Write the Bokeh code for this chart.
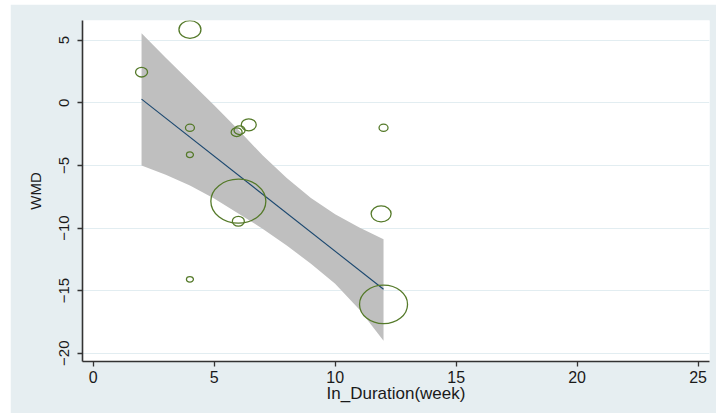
import numpy as np
from bokeh.plotting import figure
from bokeh.models import ColumnDataSource, FixedTicker, Range1d
from bokeh.embed import file_html
from bokeh.resources import INLINE

# Study-level effects: duration (weeks) vs weighted mean difference
duration = [4, 2, 4, 4, 5.93, 6.05, 6.43, 6, 6, 4, 12, 11.9, 12]
wmd = [5.85, 2.44, -2.0, -4.15, -2.35, -2.19, -1.76, -7.86, -9.46, -14.1, -2.0, -8.87, -16.1]
weight = [4.84, 1.44, 0.81, 0.49, 1.21, 1.21, 2.25, 30.25, 1.44, 0.49, 0.81, 4.0, 23.04]

# Meta-regression fitted line and 95% confidence band
fit_x = [2, 12]
fit_y = [0.29, -14.89]
band_x = [2, 3, 4, 5, 6, 7, 8, 9, 10, 11, 12]
band_hi = [5.55, 3.6, 1.7, -0.2, -2.15, -4.2, -6.0, -7.6, -8.9, -9.95, -10.9]
band_lo = [-5.0, -5.75, -6.6, -7.65, -8.85, -10.05, -11.4, -12.85, -14.45, -16.5, -19.0]

x_ticks = [0, 5, 10, 15, 20, 25]
y_ticks = [-20, -15, -10, -5, 0, 5]

BG = "#e6eef1"
FONT = "Liberation Sans"

p = figure(width=706, height=409, output_backend="svg", toolbar_location=None,
           x_range=Range1d(-0.44, 25.47), y_range=Range1d(-20.66, 6.57),
           min_border_left=72, min_border_right=7, min_border_top=16, min_border_bottom=52)
p.margin = (4, 0, 2, 10)
p.background_fill_color = "white"
p.border_fill_color = BG
p.outline_line_color = None

# confidence band
p.varea(x=band_x, y1=band_lo, y2=band_hi, fill_color="#bfbfbf", fill_alpha=1.0)
# fitted line
p.line(fit_x, fit_y, line_color="#1a476f", line_width=1.1)

# bubbles sized by study weight (slightly wider than tall)
diam = 10 * np.sqrt(np.array(weight))
src = ColumnDataSource(dict(x=duration, y=wmd, w=diam, h=diam / 1.25))
p.ellipse(x="x", y="y", width="w", height="h", width_units="screen", height_units="screen",
          source=src, fill_color=None, line_color="#557a2a", line_width=1.3)

# axes
p.xaxis.ticker = FixedTicker(ticks=x_ticks)
p.yaxis.ticker = FixedTicker(ticks=y_ticks)
for ax in (p.xaxis, p.yaxis):
    ax.axis_line_color = "#333333"
    ax.axis_line_width = 1.6
    ax.major_tick_line_color = "#333333"
    ax.major_tick_line_width = 1.3
    ax.major_tick_out = 5
    ax.major_tick_in = 0
    ax.minor_tick_line_color = None
    ax.major_label_text_font = FONT
    ax.major_label_text_color = "#1a1a1a"
    ax.axis_label_text_font = FONT
    ax.axis_label_text_font_style = "normal"
    ax.axis_label_text_color = "#1a1a1a"

p.xaxis.major_label_text_font_size = "16px"
p.xaxis.major_label_standoff = 4
p.xaxis.axis_label = "In_Duration(week)"
p.xaxis.axis_label_text_font_size = "17px"
p.xaxis.axis_label_standoff = -2

p.yaxis.major_label_orientation = "vertical"
p.yaxis.major_label_text_font_size = "15px"
p.yaxis.major_label_standoff = 8
p.yaxis.axis_label = "WMD"
p.yaxis.axis_label_text_font_size = "15px"
p.yaxis.axis_label_standoff = 13

p.xgrid.grid_line_color = None
p.ygrid.grid_line_color = "#e2edf1"
p.ygrid.grid_line_width = 1.2

open("out.html", "w").write(file_html(p, INLINE))
